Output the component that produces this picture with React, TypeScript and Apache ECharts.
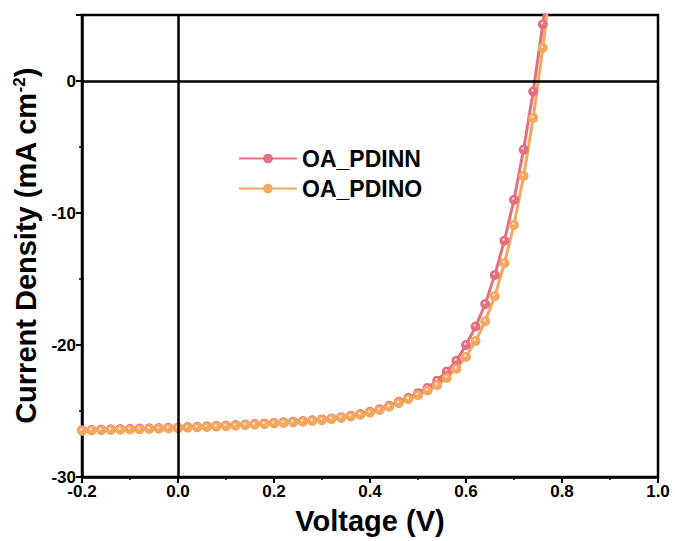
import React, { useEffect, useRef } from "react";
import * as echarts from "echarts";

const voltages = [
  -0.2, -0.18, -0.16, -0.14, -0.12, -0.1, -0.08, -0.06, -0.04, -0.02,
  0.0, 0.02, 0.04, 0.06, 0.08, 0.1, 0.12, 0.14, 0.16, 0.18,
  0.2, 0.22, 0.24, 0.26, 0.28, 0.3, 0.32, 0.34, 0.36, 0.38,
  0.4, 0.42, 0.44, 0.46, 0.48, 0.5, 0.52, 0.54, 0.56, 0.58,
  0.6, 0.62, 0.64, 0.66, 0.68, 0.7, 0.72, 0.74, 0.76, 0.78,
];

const pdinn = [
  -26.45, -26.43, -26.41, -26.39, -26.37, -26.35, -26.33, -26.31, -26.29, -26.27,
  -26.25, -26.22, -26.19, -26.16, -26.13, -26.1, -26.06, -26.02, -25.98, -25.94,
  -25.9, -25.86, -25.81, -25.76, -25.7, -25.64, -25.56, -25.47, -25.36, -25.23,
  -25.06, -24.86, -24.6, -24.3, -24.0, -23.65, -23.25, -22.7, -22.0, -21.2,
  -20.0, -18.6, -16.9, -14.7, -12.1, -9.0, -5.2, -0.8, 4.3, 9.5,
];

const pdino = [
  -26.5, -26.48, -26.46, -26.44, -26.42, -26.4, -26.38, -26.36, -26.34, -26.32,
  -26.3, -26.27, -26.24, -26.21, -26.18, -26.15, -26.11, -26.07, -26.03, -25.99,
  -25.95, -25.91, -25.86, -25.81, -25.75, -25.69, -25.61, -25.52, -25.41, -25.28,
  -25.12, -24.92, -24.68, -24.4, -24.1, -23.8, -23.45, -23.05, -22.5, -21.8,
  -20.9, -19.7, -18.2, -16.3, -13.8, -10.9, -7.2, -2.8, 2.5, 8.5,
];

const seriesNames = ["OA_PDINN", "OA_PDINO"];
const yTickLabels = ["-30", "-20", "-10", "0"];

const PINK = "#E4707F";
const ORANGE = "#F4A75E";

function ball(c: string) {
  return new echarts.graphic.RadialGradient(0.42, 0.38, 0.6, [
    { offset: 0, color: "#ffffff" },
    { offset: 0.3, color: c },
    { offset: 1, color: c },
  ]);
}

export default function App() {
  const ref = useRef<HTMLDivElement>(null);
  useEffect(() => {
    if (!ref.current) return;
    const chart = echarts.init(ref.current, null, { renderer: "svg" });
    const font = "'Liberation Sans', Arial, sans-serif";
    const mk = (name: string, ys: number[], color: string, extra: any = {}) => ({
      name,
      type: "line",
      data: voltages.map((v, i) => [v, ys[i]]),
      symbol: "circle",
      symbolSize: 10,
      showAllSymbol: true,
      clip: true,
      lineStyle: { color, width: 3 },
      itemStyle: { color: ball(color), borderWidth: 0 },
      ...extra,
    });
    chart.setOption({
      animation: false,
      backgroundColor: "#ffffff",
      grid: {
        left: 82,
        right: 17,
        top: 15,
        bottom: 64,
        outerBoundsMode: "none",
        containLabel: false,
        show: true,
        borderColor: "#000",
        borderWidth: 2.5,
      },
      legend: {
        orient: "vertical",
        left: 233,
        top: 142,
        itemWidth: 58,
        itemHeight: 12,
        itemGap: 7,
        data: seriesNames.map((n, i) => ({
          name: n,
          itemStyle: { color: i === 0 ? PINK : ORANGE },
        })),
        textStyle: { fontFamily: font, fontWeight: "bold", fontSize: 23, color: "#000" },
      },
      xAxis: {
        type: "value",
        min: -0.2,
        max: 1.0,
        interval: 0.2,
        name: "Voltage (V)",
        nameLocation: "middle",
        nameGap: 29,
        nameTextStyle: { fontFamily: font, fontWeight: "bold", fontSize: 29, color: "#000" },
        axisLine: { show: true, onZero: false, lineStyle: { color: "#000", width: 2.5 } },
        axisTick: { show: true, inside: false, length: 6, lineStyle: { color: "#000", width: 2 } },
        minorTick: { show: true, splitNumber: 2, length: 3, lineStyle: { color: "#000", width: 1.5 } },
        splitLine: { show: false },
        axisLabel: {
          fontFamily: font,
          fontWeight: "bold",
          fontSize: 17,
          color: "#000",
          margin: 6,
          formatter: (v: number) => v.toFixed(1),
        },
      },
      yAxis: {
        type: "value",
        min: -30,
        max: 5,
        interval: 10,
        name: "Current Density (mA cm{sup|-2})",
        nameLocation: "middle",
        nameGap: 38,
        nameRotate: 90,
        nameTextStyle: {
          fontFamily: font,
          fontWeight: "bold",
          fontSize: 29,
          color: "#000",
          rich: {
            sup: { fontFamily: font, fontWeight: "bold", fontSize: 17, color: "#000", verticalAlign: "bottom", padding: [0, 0, 14, 0] },
          },
        },
        axisLine: { show: true, onZero: false, lineStyle: { color: "#000", width: 2.5 } },
        axisTick: { show: true, inside: false, length: 6, lineStyle: { color: "#000", width: 2 } },
        minorTick: { show: true, splitNumber: 2, length: 3, lineStyle: { color: "#000", width: 1.5 } },
        splitLine: { show: false },
        axisLabel: {
          fontFamily: font,
          fontWeight: "bold",
          fontSize: 17,
          color: "#000",
          margin: 6,
          formatter: (v: number) => (yTickLabels.includes(String(v)) ? String(v) : ""),
        },
      },
      series: [
        mk(seriesNames[0], pdinn, PINK, {
          markLine: {
            silent: true,
            symbol: "none",
            label: { show: false },
            lineStyle: { color: "#000", width: 2.5, type: "solid" },
            data: [{ xAxis: 0 }, { yAxis: 0 }],
          },
        }),
        mk(seriesNames[1], pdino, ORANGE),
      ],
    });
    return () => chart.dispose();
  }, []);
  return (
    <div
      ref={ref}
      style={{ position: "fixed", left: 0, top: 0, width: 675, height: 541 }}
    />
  );
}
